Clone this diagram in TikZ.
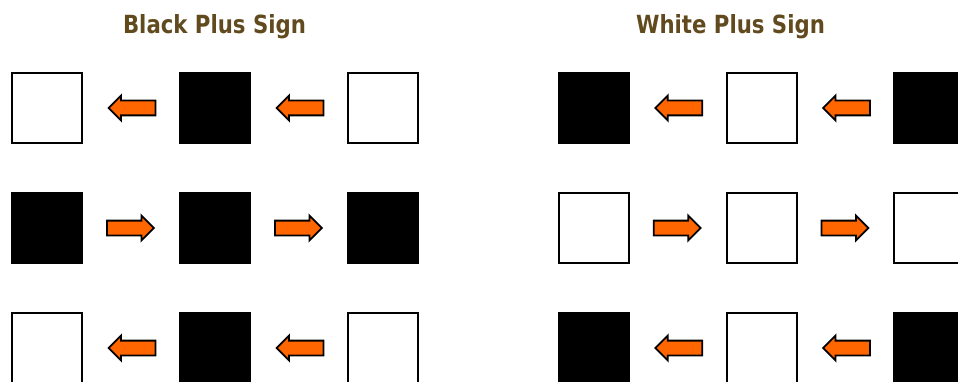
\documentclass[tikz,border=0pt]{standalone}
\usepackage{fontspec}
\newfontfamily\titlefont{DejaVu Sans}
\usetikzlibrary{shapes.arrows,calc}
\definecolor{titlebrown}{RGB}{96,74,30}
\definecolor{arroworange}{RGB}{255,102,0}
\tikzset{
  sq/.style={rectangle,draw=black,line width=2pt,minimum size=70pt,inner sep=0pt,outer sep=0pt},
  wsq/.style={sq,fill=white},
  bsq/.style={sq,fill=black},
  blockarrow/.style={single arrow,draw=black,fill=arroworange,line width=1.8pt,
    minimum height=47pt,minimum width=23pt,inner sep=6.5pt,
    single arrow head extend=5pt,single arrow head indent=0pt,outer sep=0pt},
  rarrow/.style={blockarrow},
  larrow/.style={blockarrow,shape border rotate=180},
  ttl/.style={text=titlebrown,font=\titlefont\bfseries\fontsize{25}{30}\selectfont,anchor=base,inner sep=0pt}
}
\begin{document}
\begin{tikzpicture}[x=1pt,y=-1pt]
\useasboundingbox (0,0) rectangle (958,382);
% titles
\node[ttl] (t1) at (214.5,34) {\scalebox{0.85}[1]{Black Plus Sign}};
\node[ttl] (t2) at (730.5,34) {\scalebox{0.85}[1]{White Plus Sign}};
% left group (black plus)
\node[wsq] (a11) at (47,108) {};
\node[bsq] (a12) at (214.5,108) {};
\node[wsq] (a13) at (383,108) {};
\node[bsq] (a21) at (47,228) {};
\node[bsq] (a22) at (214.5,228) {};
\node[bsq] (a23) at (383,228) {};
\node[wsq] (a31) at (47,348) {};
\node[bsq] (a32) at (214.5,348) {};
\node[wsq] (a33) at (383,348) {};
% right group (white plus)
\node[bsq] (b11) at (593.5,108) {};
\node[wsq] (b12) at (761.5,108) {};
\node[bsq] (b13) at (929,108) {};
\node[wsq] (b21) at (593.5,228) {};
\node[wsq] (b22) at (761.5,228) {};
\node[wsq] (b23) at (929,228) {};
\node[bsq] (b31) at (593.5,348) {};
\node[wsq] (b32) at (761.5,348) {};
\node[bsq] (b33) at (929,348) {};
% arrows
\foreach \g in {a,b}{
  \node[larrow] (\g ar11) at ($(\g11.east)!0.5!(\g12.west)+(5,0)$) {};
  \node[larrow] (\g ar12) at ($(\g12.east)!0.5!(\g13.west)+(5,0)$) {};
  \node[rarrow] (\g ar21) at ($(\g21.east)!0.5!(\g22.west)+(-4,0)$) {};
  \node[rarrow] (\g ar22) at ($(\g22.east)!0.5!(\g23.west)+(-4,0)$) {};
  \node[larrow] (\g ar31) at ($(\g31.east)!0.5!(\g32.west)+(5,0)$) {};
  \node[larrow] (\g ar32) at ($(\g32.east)!0.5!(\g33.west)+(5,0)$) {};
}
\end{tikzpicture}
\end{document}
